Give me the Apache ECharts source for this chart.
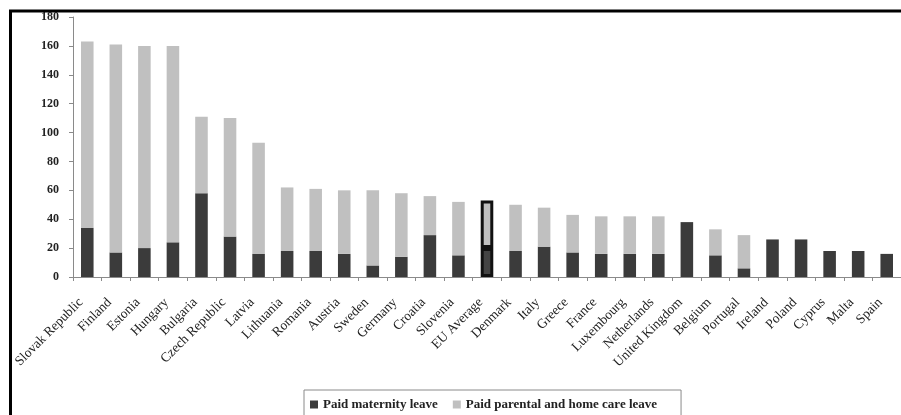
<!DOCTYPE html>
<html>
<head>
<meta charset="utf-8">
<style>
  html, body { margin: 0; padding: 0; background: #ffffff; }
  #chart { width: 901px; height: 415px; }
</style>
<script src="https://cdn.jsdelivr.net/npm/echarts@6/dist/echarts.min.js"></script>
</head>
<body>
<div id="chart"></div>
<script>
// Countries, ordered by total paid leave (weeks)
const countries = [
  'Slovak Republic', 'Finland', 'Estonia', 'Hungary', 'Bulgaria', 'Czech Republic',
  'Latvia', 'Lithuania', 'Romania', 'Austria', 'Sweden', 'Germany', 'Croatia',
  'Slovenia', 'EU Average', 'Denmark', 'Italy', 'Greece', 'France', 'Luxembourg',
  'Netherlands', 'United Kingdom', 'Belgium', 'Portugal', 'Ireland', 'Poland',
  'Cyprus', 'Malta', 'Spain'
];

// Paid maternity leave (weeks)
const maternity = [
  34, 17, 20, 24, 58, 28,
  16, 18, 18, 16, 8, 14, 29,
  15, 20, 18, 21, 17, 16, 16,
  16, 38, 15, 6, 26, 26,
  18, 18, 16
];

// Paid parental and home care leave (weeks)
const parental = [
  129, 144, 140, 136, 53, 82,
  77, 44, 43, 44, 52, 44, 27,
  37, 33, 32, 27, 26, 26, 26,
  26, 0, 18, 23, 0, 0,
  0, 0, 0
];

const yTicks = { min: 0, max: 180, step: 20 };
const highlighted = 'EU Average';
const seriesNames = ['Paid maternity leave', 'Paid parental and home care leave'];

const serif = '"Liberation Serif", "DejaVu Serif", serif';
const darkFill = '#3b3b3b';
const lightFill = '#c0c0c0';

// The EU average bar gets a heavy black outline on each segment
function withOutline(values, color) {
  return values.map((v, i) => {
    if (countries[i] === highlighted) {
      return {
        value: v,
        itemStyle: { color: color === darkFill ? '#444444' : color, borderColor: '#111111', borderWidth: 3 }
      };
    }
    return v;
  });
}

const chart = echarts.init(document.getElementById('chart'), null, { renderer: 'canvas' });

chart.setOption({
  backgroundColor: '#ffffff',
  animation: false,
  graphic: [{
    type: 'rect',
    shape: { x: 10.5, y: 11, width: 1000, height: 1000 },
    style: { fill: 'none', stroke: '#000000', lineWidth: 3 },
    silent: true,
    z: 100
  }],
  grid: { left: 73, right: -10, top: 17, bottom: 138, containLabel: false },
  legend: {
    data: seriesNames,
    left: 304,
    top: 390,
    orient: 'horizontal',
    icon: 'rect',
    itemWidth: 8,
    itemHeight: 8,
    itemGap: 15,
    padding: [8, 24, 30, 6],
    borderColor: '#8a8a8a',
    borderWidth: 1,
    textStyle: { fontFamily: serif, fontSize: 13, fontWeight: 'bold', color: '#222222' }
  },
  xAxis: {
    type: 'category',
    data: countries,
    axisLine: { show: true, lineStyle: { color: '#8a8a8a', width: 1 } },
    axisTick: { show: true, length: 4, lineStyle: { color: '#8a8a8a' } },
    axisLabel: {
      rotate: 45,
      interval: 0,
      margin: 17,
      padding: [0, 9, 0, 0],
      fontFamily: serif,
      fontSize: 13.5,
      color: '#222222'
    }
  },
  yAxis: {
    type: 'value',
    min: yTicks.min,
    max: yTicks.max,
    interval: yTicks.step,
    splitLine: { show: false },
    axisLine: { show: true, lineStyle: { color: '#8a8a8a', width: 1 } },
    axisTick: { show: true, length: 4, lineStyle: { color: '#8a8a8a' } },
    axisLabel: {
      margin: 14,
      fontFamily: serif,
      fontSize: 12,
      fontWeight: 'bold',
      color: '#222222'
    }
  },
  series: [
    {
      name: seriesNames[0],
      type: 'bar',
      stack: 'leave',
      barWidth: '44%',
      itemStyle: { color: darkFill },
      data: withOutline(maternity, darkFill)
    },
    {
      name: seriesNames[1],
      type: 'bar',
      stack: 'leave',
      barWidth: '44%',
      itemStyle: { color: lightFill },
      data: withOutline(parental, lightFill)
    }
  ]
});
</script>
</body>
</html>
